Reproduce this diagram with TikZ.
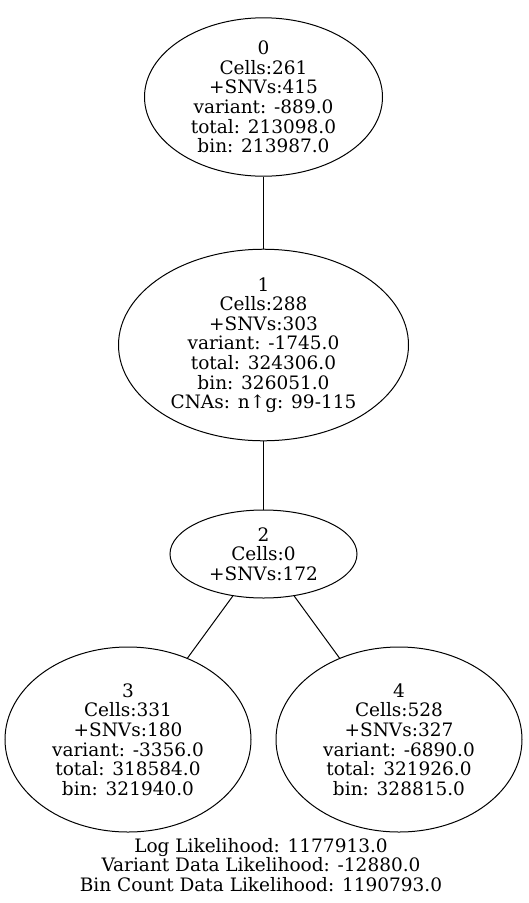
\documentclass[tikz,border=0pt]{standalone}
\usepackage{fontspec}
\setmainfont{DejaVu Serif}
\usetikzlibrary{shapes.geometric}
\begin{document}
\begin{tikzpicture}[x=1pt,y=-1pt,
  treenode/.style={draw,ellipse,line width=1pt,inner sep=0pt,align=center,
    font=\fontsize{18.5}{19.6}\selectfont},
  edge/.style={line width=1pt},
  lbl/.style={align=center,inner sep=0pt,font=\fontsize{18.5}{19.8}\selectfont}]
\useasboundingbox[fill=white] (0,0) rectangle (528,903);
\node[treenode,minimum width=238pt,minimum height=154pt] (n0) at (263.5,97)
  {0\\Cells:261\\+SNVs:415\\variant: -889.0\\total: 213098.0\\bin: 213987.0};
\node[treenode,minimum width=290pt,minimum height=190pt] (n1) at (263.5,345)
  {1\\Cells:288\\+SNVs:303\\variant: -1745.0\\total: 324306.0\\bin: 326051.0\\CNAs: n↑g: 99-115};
\node[treenode,minimum width=187pt,minimum height=88pt] (n2) at (263.5,554)
  {2\\Cells:0\\+SNVs:172};
\node[treenode,minimum width=246pt,minimum height=185pt] (n3) at (128,739.5)
  {3\\Cells:331\\+SNVs:180\\variant: -3356.0\\total: 318584.0\\bin: 321940.0};
\node[treenode,minimum width=246pt,minimum height=185pt] (n4) at (399,739.5)
  {4\\Cells:528\\+SNVs:327\\variant: -6890.0\\total: 321926.0\\bin: 328815.0};
\draw[edge] (n0) -- (n1);
\draw[edge] (n1) -- (n2);
\draw[edge] (n2) -- (n3);
\draw[edge] (n2) -- (n4);
\node[lbl] (ll) at (261,865) {Log Likelihood: 1177913.0\\Variant Data Likelihood: -12880.0\\Bin Count Data Likelihood: 1190793.0};
\end{tikzpicture}
\end{document}
